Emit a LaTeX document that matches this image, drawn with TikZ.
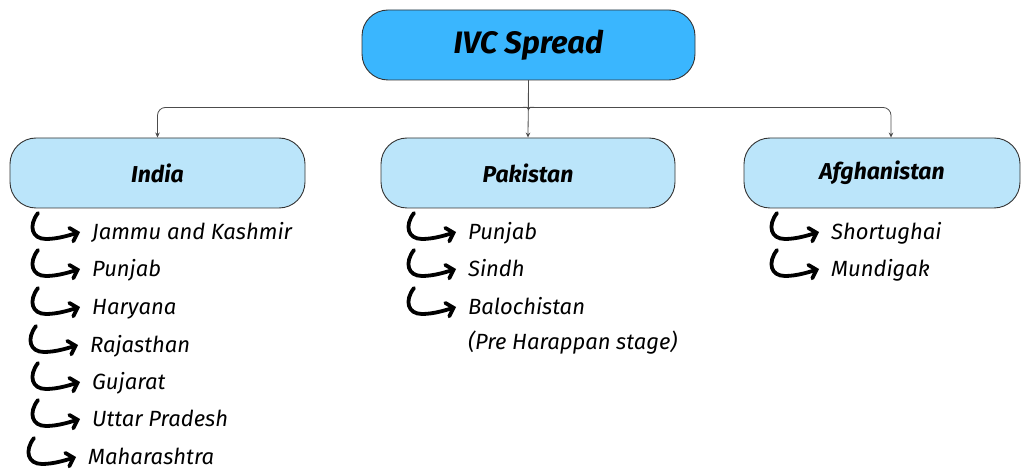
\documentclass[tikz,border=0pt]{standalone}
\usepackage{fontspec}
\setmainfont{Fira Sans}
\usetikzlibrary{arrows.meta,calc}
\definecolor{skyA}{HTML}{3AB6FE}
\definecolor{skyB}{HTML}{BBE5FA}
\definecolor{edge}{HTML}{333333}
\tikzset{
  rootbox/.style={draw=edge, line width=0.9pt, fill=skyA, rounded corners=26pt,
    minimum width=333pt, minimum height=70pt,
    font=\bfseries\itshape\fontsize{31}{35}\selectfont},
  catbox/.style={draw=edge, line width=0.9pt, fill=skyB, rounded corners=26pt,
    minimum height=70pt, font=\bfseries\itshape\fontsize{23}{27}\selectfont},
  item/.style={anchor=west, inner sep=0pt, text height=16pt, text depth=5pt,
    font=\itshape\fontsize{22}{26}\selectfont},
  conn/.style={draw=black!70, line width=0.8pt, rounded corners=8pt,
    -{Stealth[length=5pt,width=4.5pt]}},
  hook/.style={line width=3.8pt, line cap=round,
    -{Straight Barb[length=6.5pt,width=14pt,line cap=round]}}
}
\newcommand{\hookto}[1]{%
  \draw[hook] ($(#1.west)+(-54,-21)$) .. controls ($(#1.west)+(-64,-8)$) and ($(#1.west)+(-60,5)$) ..
    ($(#1.west)+(-46,5)$) .. controls ($(#1.west)+(-34,5)$) and ($(#1.west)+(-22,1)$) ..
    ($(#1.west)+(-12,-2)$);}
\begin{document}
\begin{tikzpicture}[x=1pt,y=-1pt]
\useasboundingbox (0,0) rectangle (1027,470);
\node[rootbox] (root) at (528.5,45) {IVC Spread};
\node[catbox, minimum width=295pt] (india) at (157.5,173) {India};
\node[catbox, minimum width=294pt] (pak) at (528,173) {Pakistan};
\node[catbox, minimum width=276pt] (afg) at (882,173) {Afghanistan};
% connectors
\coordinate (j) at ($(root.south)+(0,21)$);
\coordinate (afgin) at ($(afg.north)+(9,0)$);
\draw[conn] (root.south) -- (pak.north);
\draw[conn] (root.south) -- (j) .. controls ($(j)+(0,5)$) and ($(j)+(-4,6)$) ..
  ($(j)+(-10,6)$) -| (india.north);
\draw[conn] (root.south) -- (j) .. controls ($(j)+(0,5)$) and ($(j)+(4,6)$) ..
  ($(j)+(10,6)$) -| (afgin);
% India items
\node[item] (i1) at (92,234) {Jammu and Kashmir};
\node[item] (i2) at (92,271) {Punjab};
\node[item] (i3) at (92,309) {Haryana};
\node[item] (i4) at (90,347) {Rajasthan};
\node[item] (i5) at (92,384) {Gujarat};
\node[item] (i6) at (92,421) {Uttar Pradesh};
\node[item] (i7) at (88,459) {Maharashtra};
% Pakistan items
\node[item] (p1) at (468,234) {Punjab};
\node[item] (p2) at (468,271) {Sindh};
\node[item] (p3) at (468,309) {Balochistan};
\node[item] (p4) at (468,344) {(Pre Harappan stage)};
% Afghanistan items
\node[item] (a1) at (831,234) {Shortughai};
\node[item] (a2) at (831,271) {Mundigak};
\foreach \n in {i1,i2,i3,i4,i5,i6,i7,p1,p2,p3,a1,a2}{\hookto{\n}}
\end{tikzpicture}
\end{document}
